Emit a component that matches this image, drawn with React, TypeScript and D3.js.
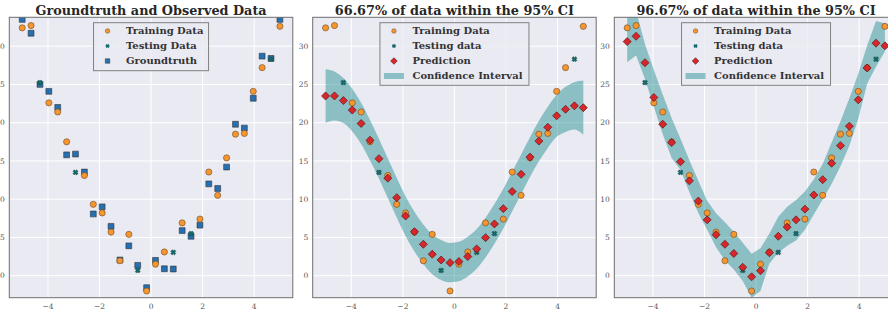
import React from 'react';
import * as d3 from 'd3';

// x positions of the 30 samples (evenly spaced between -5 and 5)
const xValues = [
  -5.0, -4.655, -4.31, -3.966, -3.621, -3.276, -2.931, -2.586, -2.241, -1.897,
  -1.552, -1.207, -0.862, -0.517, -0.172, 0.172, 0.517, 0.862, 1.207, 1.552,
  1.897, 2.241, 2.586, 2.931, 3.276, 3.621, 3.966, 4.31, 4.655, 5.0,
];

// observed values (training + testing share this list)
const observed = [
  32.4, 32.7, 25.25, 22.6, 21.4, 17.5, 13.5, 13.1, 9.33, 8.2,
  5.7, 1.95, 5.4, 0.68, -2.0, 1.5, 3.1, 3.05, 6.9, 5.5,
  7.4, 13.55, 10.5, 15.4, 18.5, 18.6, 24.1, 27.2, 28.3, 32.6,
];

// which samples were held out for testing
const testIndex = [2, 6, 13, 17, 19, 28];

const groundtruth = [
  33.5, 31.7, 25.0, 24.1, 22.0, 15.8, 15.9, 13.55, 8.07, 9.0,
  6.45, 2.05, 3.9, 1.35, -1.57, 2.0, 0.9, 0.87, 5.9, 5.15,
  6.6, 12.0, 11.4, 14.2, 19.8, 19.3, 23.2, 28.7, 28.4, 33.5,
];

// middle panel: prediction and 95% CI
const pred2 = [
  23.5, 23.5, 22.9, 21.65, 19.9, 17.7, 15.3, 12.75, 10.2, 7.8,
  5.75, 4.1, 2.8, 2.05, 1.7, 1.85, 2.5, 3.5, 4.97, 6.76,
  8.76, 11.0, 13.25, 15.5, 17.6, 19.4, 20.9, 21.75, 22.2, 21.96,
];
const lower2 = [
  20.0, 20.3, 19.95, 18.85, 17.2, 15.05, 12.7, 10.15, 7.6, 5.2,
  3.15, 1.5, 0.2, -0.55, -0.87, -0.72, -0.1, 0.9, 2.37, 4.16,
  6.16, 8.4, 10.65, 12.9, 14.95, 16.7, 18.15, 18.8, 19.1, 18.41,
];
const upper2 = [
  27.0, 26.7, 25.85, 24.45, 22.6, 20.35, 17.9, 15.35, 12.8, 10.4,
  8.35, 6.7, 5.4, 4.65, 4.27, 4.42, 5.1, 6.1, 7.57, 9.36,
  11.36, 13.6, 15.85, 18.1, 20.25, 22.1, 23.65, 24.7, 25.3, 25.51,
];

// right panel: prediction and 95% CI
const pred3 = [
  30.6, 31.3, 27.85, 23.3, 19.8, 17.4, 14.9, 12.4, 9.75, 7.3,
  5.35, 4.1, 2.9, 1.1, -0.15, 0.65, 3.0, 5.15, 6.35, 7.3,
  8.7, 10.55, 12.55, 14.7, 17.0, 19.55, 23.0, 27.15, 30.4, 30.05,
];
const lower3 = [
  27.9, 28.8, 25.7, 22.1, 18.5, 15.4, 13.8, 10.9, 8.2, 6.0,
  3.7, 2.0, 0.8, -0.7, -2.9, -2.0, 1.6, 3.0, 3.9, 4.6,
  6.0, 8.0, 10.0, 12.0, 14.3, 17.0, 20.5, 25.1, 27.3, 29.3,
];
const upper3 = [
  34.6, 34.6, 30.3, 26.9, 23.7, 20.6, 17.9, 15.1, 12.4, 9.8,
  8.15, 7.0, 5.75, 4.3, 2.85, 3.6, 5.5, 7.7, 9.0, 9.9,
  11.0, 12.6, 14.6, 17.4, 20.2, 23.2, 26.4, 30.1, 33.3, 33.0,
];

const xTicks = [-4, -2, 0, 2, 4];
const yTicks = [0, 5, 10, 15, 20, 25, 30];
const titles = [
  'Groundtruth and Observed Data',
  '66.67% of data within the 95% CI',
  '96.67% of data within the 95% CI',
];

const W = 888;
const H = 313;
const plotTop = 17.3;
const plotBottom = 297.7;
const panelLefts = [9.3, 312.7, 614.3];
const panelWidth = 283.5;

const SERIF = "'DejaVu Serif', serif";
const ORANGE = '#f5962f';
const BLUE = '#2470b3';
const TEAL = '#17696b';
const RED = '#d8262b';

const y = d3.scaleLinear().domain([-2.88, 33.78]).range([plotBottom, plotTop]);

const diamond = (h: number) => `M0,${-h}L${h},0L0,${h}L${-h},0Z`;
// filled "X" marker
const xMarker = (s: number, w: number) => {
  const a = w / Math.SQRT2;
  return `M${-s},${-s + a}L${-s + a},${-s}L0,${-a}L${s - a},${-s}L${s},${-s + a}L${a},0L${s},${s - a}L${s - a},${s}L0,${a}L${-s + a},${s}L${-s},${s - a}L${-a},0Z`;
};
const circlePath = d3.symbol(d3.symbolCircle, 30)() as string;
const squarePath = d3.symbol(d3.symbolSquare, 34)() as string;

const Marker = ({ kind }: { kind: string }) => {
  if (kind === 'train') return <path d={circlePath} fill={ORANGE} stroke="#6b4a2a" strokeWidth={0.6} />;
  if (kind === 'test') return <path d={xMarker(2.6, 2.1)} fill={TEAL} stroke="#0d3d3d" strokeWidth={0.4} />;
  if (kind === 'truth') return <path d={squarePath} fill={BLUE} stroke="#333" strokeWidth={0.6} />;
  if (kind === 'pred') return <path d={diamond(4)} fill={RED} stroke="#5a1414" strokeWidth={0.7} />;
  return <rect x={-10} y={-3} width={20} height={6} fill="#008080" fillOpacity={0.4} />;
};

const Panel = ({ idx }: { idx: number }) => {
  const left = panelLefts[idx];
  const x = d3.scaleLinear().domain([-5.5, 5.5]).range([left, left + panelWidth]);
  const cx = left + panelWidth / 2;
  const clipId = `clip${idx}`;

  const pred = idx === 1 ? pred2 : pred3;
  const lower = idx === 1 ? lower2 : lower3;
  const upper = idx === 1 ? upper2 : upper3;

  const area = d3.area<number>()
    .x((_, i) => x(xValues[i]))
    .y0((_, i) => y(lower[i]))
    .y1((_, i) => y(upper[i]))
    .curve(idx === 1 ? d3.curveMonotoneX : d3.curveLinear);

  const trainIdx = xValues.map((_, i) => i).filter(i => !testIndex.includes(i));

  const legendItems = idx === 0
    ? [['train', 'Training Data'], ['test', 'Testing Data'], ['truth', 'Groundtruth']]
    : [['train', 'Training Data'], ['test', 'Testing data'], ['pred', 'Prediction'], ['band', 'Confidence Interval']];
  const legendW = idx === 0 ? 115 : 149;
  const legendH = idx === 0 ? 48 : 62.6;
  const legendX = cx - legendW / 2;
  const legendY = 22.7;

  return (
    <g>
      <defs>
        <clipPath id={clipId}>
          <rect x={left} y={plotTop} width={panelWidth} height={plotBottom - plotTop} />
        </clipPath>
      </defs>
      <rect x={left} y={plotTop} width={panelWidth} height={plotBottom - plotTop} fill="#eaeaf2" />
      {/* grid */}
      {xTicks.map(t => (
        <line key={'gx' + t} x1={x(t)} x2={x(t)} y1={plotTop} y2={plotBottom} stroke="#fff" strokeWidth={1} />
      ))}
      {yTicks.map(t => (
        <line key={'gy' + t} x1={left} x2={left + panelWidth} y1={y(t)} y2={y(t)} stroke="#fff" strokeWidth={1} />
      ))}

      <g clipPath={`url(#${clipId})`}>
        {idx > 0 && <path d={area(xValues.map((_, i) => i)) as string} fill="#008080" fillOpacity={0.4} />}
        {idx === 0 && xValues.map((v, i) => (
          <g key={'gt' + i} transform={`translate(${x(v)},${y(groundtruth[i])})`}><Marker kind="truth" /></g>
        ))}
        {trainIdx.map(i => (
          <g key={'tr' + i} transform={`translate(${x(xValues[i])},${y(observed[i])})`}><Marker kind="train" /></g>
        ))}
        {testIndex.map(i => (
          <g key={'te' + i} transform={`translate(${x(xValues[i])},${y(observed[i])})`}><Marker kind="test" /></g>
        ))}
        {idx > 0 && xValues.map((v, i) => (
          <g key={'pr' + i} transform={`translate(${x(v)},${y(pred[i])})`}><Marker kind="pred" /></g>
        ))}
      </g>

      <rect x={left} y={plotTop} width={panelWidth} height={plotBottom - plotTop} fill="none" stroke="#6e6e6e" strokeWidth={1} />

      {/* tick labels */}
      {xTicks.map(t => (
        <text key={'tx' + t} x={x(t)} y={308.5} textAnchor="middle" fontFamily={SERIF} fontSize={7.5} fill="#555">
          {t < 0 ? '\u2212' + Math.abs(t) : t}
        </text>
      ))}
      {yTicks.map(t => (
        <text key={'ty' + t} x={left - 4.5} y={y(t) + 2.7} textAnchor="end" fontFamily={SERIF} fontSize={7.5} fill="#555">
          {t}
        </text>
      ))}

      <text x={cx} y={14.6} textAnchor="middle" fontFamily={SERIF} fontWeight="bold" fontSize={12.8} fill="#262626">
        {titles[idx]}
      </text>

      {/* legend */}
      <rect x={legendX} y={legendY} width={legendW} height={legendH} fill="#eaeaf2" fillOpacity={0.8} stroke="#808080" strokeWidth={1} />
      {legendItems.map(([kind, label], k) => {
        const ry = legendY + 8.3 + k * 15;
        return (
          <g key={kind}>
            <g transform={`translate(${legendX + 14},${ry})`}>
              {kind === 'train' ? <path d={d3.symbol(d3.symbolCircle, 16)() as string} fill={ORANGE} stroke="#6b4a2a" strokeWidth={0.5} />
                : kind === 'test' ? <path d={xMarker(2.1, 1.8)} fill={TEAL} />
                : kind === 'truth' ? <path d={d3.symbol(d3.symbolSquare, 20)() as string} fill={BLUE} stroke="#333" strokeWidth={0.5} />
                : kind === 'pred' ? <path d={diamond(3.3)} fill={RED} stroke="#5a1414" strokeWidth={0.6} />
                : <Marker kind={kind} />}
            </g>
            <text x={legendX + 32.5} y={ry + 3.4} fontFamily={SERIF} fontWeight="bold" fontSize={10} fill="#333">
              {label}
            </text>
          </g>
        );
      })}
    </g>
  );
};

const App: React.FC = () => {
  return (
    <div style={{ position: 'absolute', left: 0, top: 0 }}>
      <svg width={W} height={H} style={{ display: 'block', background: '#fff' }}>
        {[0, 1, 2].map(i => <Panel key={i} idx={i} />)}
      </svg>
    </div>
  );
};

export default App;
